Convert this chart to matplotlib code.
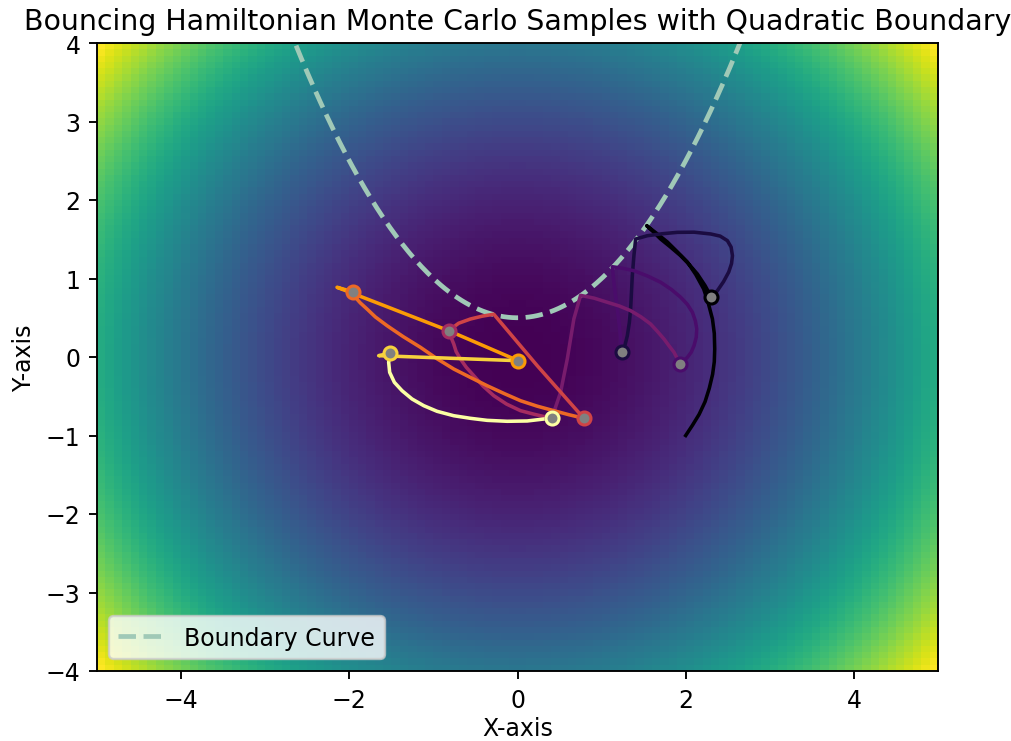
import numpy as np
import matplotlib
matplotlib.use("Agg")
import matplotlib.pyplot as plt

# Potential energy surface U(x, y) = 0.5 * (x^2 + y^2) on the plotting window
x_range = (-5.0, 5.0)
y_range = (-4.0, 4.0)
grid_n = 100

# Quadratic boundary y = a * x^2 + c
boundary_a = 0.5
boundary_c = 0.5

# Leapfrog trajectories (x, y), one per HMC iteration; each ends at its sample
traj_x = [
    [2.00, 2.08, 2.16, 2.23, 2.28, 2.32, 2.34, 2.345, 2.34, 2.318, 2.27, 2.214, 2.12, 2.020,
     1.90, 1.782, 1.66, 1.536, 1.62, 1.702, 1.82, 1.940, 2.04, 2.139, 2.23, 2.306],
    [2.306, 2.377, 2.45, 2.512, 2.545, 2.556, 2.54, 2.496, 2.41, 2.298, 2.10, 1.901, 1.72,
     1.544, 1.405, 1.385, 1.365, 1.355, 1.345, 1.33, 1.306, 1.28, 1.246],
    [1.246, 1.202, 1.155, 1.127, 1.25, 1.385, 1.55, 1.702, 1.83, 1.940, 2.02, 2.080, 2.115,
     2.131, 2.125, 2.099, 2.065, 2.020, 1.975, 1.932],
    [1.932, 1.90, 1.861, 1.80, 1.742, 1.66, 1.583, 1.47, 1.345, 1.21, 1.068, 0.91, 0.750,
     0.670, 0.592, 0.512, 0.432, 0.413],
    [0.413, 0.354, 0.20, 0.036, -0.13, -0.282, -0.41, -0.520, -0.61, -0.679, -0.73, -0.758,
     -0.79, -0.818],
    [-0.818, -0.70, -0.560, -0.42, -0.282, 0.235, 0.789],
    [0.789, 0.61, 0.432, 0.23, 0.036, -0.16, -0.361, -0.56, -0.758, -0.96, -1.155, -1.36,
     -1.551, -1.69, -1.789, -1.87, -1.929, -1.961],
    [-1.961, -2.146, -0.818, 0.008],
    [0.008, -1.651, -1.512],
    [-1.512, -1.532, -1.520, -1.464, -1.373, -1.254, -1.115, -0.956, -0.758, -0.560, -0.361,
     -0.123, 0.115, 0.313, 0.413],
]
traj_y = [
    [-1.00, -0.87, -0.73, -0.57, -0.40, -0.22, -0.06, 0.102, 0.30, 0.484, 0.68, 0.866, 1.05,
     1.210, 1.34, 1.465, 1.57, 1.673, 1.59, 1.503, 1.40, 1.290, 1.18, 1.057, 0.91, 0.761],
    [0.761, 0.845, 0.96, 1.083, 1.19, 1.290, 1.40, 1.482, 1.54, 1.567, 1.59, 1.588, 1.57,
     1.545, 1.503, 1.30, 1.036, 0.82, 0.611, 0.44, 0.271, 0.16, 0.060],
    [0.060, 0.484, 0.866, 1.150, 1.13, 1.099, 1.03, 0.952, 0.86, 0.761, 0.67, 0.569, 0.46,
     0.357, 0.25, 0.144, 0.06, -0.004, -0.05, -0.089],
    [-0.089, -0.02, 0.060, 0.145, 0.229, 0.33, 0.420, 0.51, 0.590, 0.65, 0.697, 0.75, 0.785,
     0.484, -0.025, -0.450, -0.704, -0.777],
    [-0.777, -0.768, -0.73, -0.684, -0.60, -0.493, -0.37, -0.238, -0.13, -0.025, 0.07, 0.166,
     0.25, 0.335],
    [0.335, 0.43, 0.484, 0.52, 0.545, -0.111, -0.781],
    [-0.781, -0.735, -0.684, -0.625, -0.557, -0.465, -0.366, -0.26, -0.153, -0.02, 0.124, 0.26,
     0.399, 0.51, 0.611, 0.69, 0.761, 0.832],
    [0.832, 0.888, 0.335, -0.047],
    [-0.047, 0.017, 0.051],
    [0.051, -0.068, -0.195, -0.323, -0.429, -0.535, -0.620, -0.692, -0.748, -0.781, -0.807,
     -0.819, -0.815, -0.790, -0.777],
]

title = "Bouncing Hamiltonian Monte Carlo Samples with Quadratic Boundary"
x_label = "X-axis"
y_label = "Y-axis"
boundary_label = "Boundary Curve"

fig = plt.figure(figsize=(1011 / 170, 742 / 170), dpi=170)
ax = fig.add_axes([97 / 1011, 70 / 742, 841 / 1011, 628 / 742])

gx = np.linspace(*x_range, grid_n)
gy = np.linspace(*y_range, grid_n)
GX, GY = np.meshgrid(gx, gy)
U = 0.5 * (GX ** 2 + GY ** 2)
ax.imshow(U, extent=[*x_range, *y_range], origin="lower", cmap="viridis",
          aspect="auto", interpolation="nearest")

bx = np.linspace(*x_range, 400)
ax.plot(bx, boundary_a * bx ** 2 + boundary_c, linestyle="--", color="#a0c9b7",
        linewidth=2, label=boundary_label)

cmap = plt.get_cmap("inferno")
n = len(traj_x)
for i, (tx, ty) in enumerate(zip(traj_x, traj_y)):
    c = cmap(i / (n - 1))
    ax.plot(tx, ty, color=c, linewidth=1.5, solid_joinstyle="round")
for i, (tx, ty) in enumerate(zip(traj_x, traj_y)):
    c = cmap(i / (n - 1))
    ax.plot(tx[-1], ty[-1], marker="o", markersize=5.5, markerfacecolor="gray",
            markeredgecolor=c, markeredgewidth=1.3, linestyle="none")

ax.set_xlim(*x_range)
ax.set_ylim(*y_range)
ax.set_title(title, fontsize=12)
ax.set_xlabel(x_label, labelpad=2)
ax.set_ylabel(y_label)
ax.legend(loc="lower left")

fig.savefig("out.png", dpi=170)
